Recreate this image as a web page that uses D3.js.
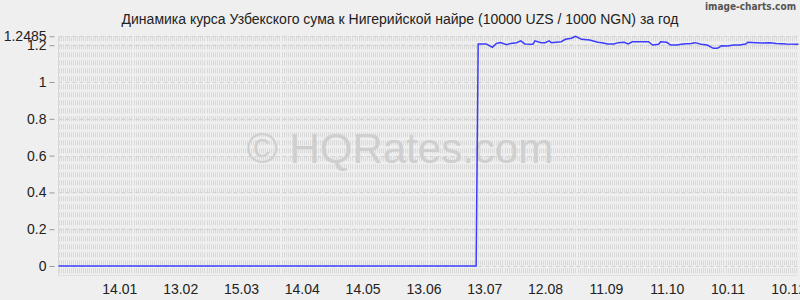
<!DOCTYPE html>
<html>
<head>
<meta charset="utf-8">
<script src="https://cdn.jsdelivr.net/npm/d3@7"></script>
<style>
  body { margin: 0; background: #efefef; }
  svg { display: block; }
</style>
</head>
<body>
<div id="chart"></div>
<script>
// rate data, 10000 UZS / 1000 NGN (zero before the series starts)
var rateDates = ["2012-12-15", "2013-07-09", "2013-07-10", "2013-07-14", "2013-07-17", "2013-07-19", "2013-07-21",
  "2013-07-24", "2013-07-26", "2013-07-29", "2013-07-31", "2013-08-02", "2013-08-06", "2013-08-07", "2013-08-10",
  "2013-08-12", "2013-08-14", "2013-08-15", "2013-08-20", "2013-08-22", "2013-08-25", "2013-08-27", "2013-08-30",
  "2013-09-03", "2013-09-07", "2013-09-09", "2013-09-12", "2013-09-15", "2013-09-17", "2013-09-20", "2013-09-22",
  "2013-09-24", "2013-09-28", "2013-10-02", "2013-10-04", "2013-10-07", "2013-10-08", "2013-10-11", "2013-10-13",
  "2013-10-16", "2013-10-19", "2013-10-23", "2013-10-25", "2013-10-28", "2013-10-31", "2013-11-03", "2013-11-05",
  "2013-11-07", "2013-11-10", "2013-11-13", "2013-11-16", "2013-11-19", "2013-11-20", "2013-11-24", "2013-11-27",
  "2013-12-01", "2013-12-04", "2013-12-09", "2013-12-15"];
var rateValues = [0, 0, 1.207, 1.207, 1.189, 1.210, 1.214,
  1.203, 1.210, 1.214, 1.224, 1.207, 1.205, 1.224, 1.214,
  1.214, 1.224, 1.214, 1.219, 1.232, 1.238, 1.2485, 1.232,
  1.228, 1.216, 1.214, 1.207, 1.207, 1.214, 1.216, 1.207,
  1.219, 1.219, 1.219, 1.201, 1.205, 1.219, 1.216, 1.201,
  1.201, 1.207, 1.210, 1.214, 1.205, 1.201, 1.183, 1.183,
  1.197, 1.196, 1.201, 1.201, 1.207, 1.216, 1.214, 1.212,
  1.214, 1.210, 1.207, 1.205];
var xTickDates = ["2013-01-14", "2013-02-13", "2013-03-15", "2013-04-14", "2013-05-14", "2013-06-13",
  "2013-07-13", "2013-08-12", "2013-09-11", "2013-10-11", "2013-11-10", "2013-12-10"];
var yTicks = [0, 0.2, 0.4, 0.6, 0.8, 1, 1.2, 1.2485];
var title = "Динамика курса Узбекского сума к Нигерийской найре (10000 UZS / 1000 NGN) за год";

var width = 800, height = 300;
var plotLeft = 58.5, plotRight = 798.5, plotTop = 36.3, zeroY = 266, plotBottom = 275;

var parse = d3.timeParse("%Y-%m-%d");
var data = rateDates.map(function(d, i) { return { date: parse(d), value: rateValues[i] }; });

var svg = d3.select("#chart").append("svg")
  .attr("width", width)
  .attr("height", height)
  .style("font-family", "'Liberation Sans', Arial, sans-serif");

svg.append("rect").attr("width", width).attr("height", height).attr("fill", "#efefef");

var x = d3.scaleTime()
  .domain([parse(rateDates[0]), parse(rateDates[rateDates.length - 1])])
  .range([plotLeft, plotRight]);
var y = d3.scaleLinear()
  .domain([0, 1.2485])
  .range([zeroY, plotTop]);

// daily dashed grid
var grid = svg.append("g");
grid.selectAll("line.day")
  .data(d3.timeDay.range(x.domain()[0], x.domain()[1]))
  .enter().append("line")
  .attr("class", "day")
  .attr("x1", function(d) { return Math.round(x(d)) + 0.5; })
  .attr("x2", function(d) { return Math.round(x(d)) + 0.5; })
  .attr("y1", plotTop)
  .attr("y2", plotBottom)
  .attr("stroke", "#d9d9d9")
  .attr("stroke-width", 1)
  .attr("stroke-dasharray", "5,3");

grid.selectAll("line.h")
  .data(yTicks)
  .enter().append("line")
  .attr("class", "h")
  .attr("x1", plotLeft)
  .attr("x2", plotRight)
  .attr("y1", function(d) { return Math.round(y(d)) + 0.5; })
  .attr("y2", function(d) { return Math.round(y(d)) + 0.5; })
  .attr("stroke", "#d2d2d2")
  .attr("stroke-dasharray", "4,3");

grid.append("line")
  .attr("x1", plotLeft).attr("x2", plotRight)
  .attr("y1", plotBottom + 0.5).attr("y2", plotBottom + 0.5)
  .attr("stroke", "#d0d0d0")
  .attr("stroke-dasharray", "1,1");

grid.append("line")
  .attr("x1", plotLeft).attr("x2", plotLeft)
  .attr("y1", plotTop).attr("y2", plotBottom)
  .attr("stroke", "#dadada");

// watermark
svg.append("text")
  .attr("x", 400)
  .attr("y", 163)
  .attr("text-anchor", "middle")
  .style("font-size", "42px")
  .attr("fill", "#cfcfcf")
  .text("© HQRates.com");

// y axis
var yAxis = svg.append("g")
  .attr("transform", "translate(" + (plotLeft - 4) + ",0)")
  .call(d3.axisLeft(y).tickValues(yTicks).tickSize(5).tickPadding(3)
    .tickFormat(function(d) { return d3.format("~g")(d); }));
yAxis.select(".domain").remove();
yAxis.selectAll(".tick line").attr("stroke", "#999");
yAxis.selectAll(".tick text").style("font-size", "14px").attr("fill", "#222");

// x axis
var xAxis = svg.append("g")
  .attr("transform", "translate(0," + plotBottom + ")")
  .call(d3.axisBottom(x).tickValues(xTickDates.map(parse)).tickSize(0).tickPadding(9)
    .tickFormat(d3.timeFormat("%d.%m")));
xAxis.select(".domain").remove();
xAxis.selectAll(".tick text").style("font-size", "14px").attr("fill", "#222");

// line
var line = d3.line()
  .x(function(d) { return x(d.date); })
  .y(function(d) { return y(d.value); });
svg.append("path")
  .datum(data)
  .attr("d", line)
  .attr("fill", "none")
  .attr("stroke", "#3c3cff")
  .attr("stroke-width", 1.5);

// title
svg.append("text")
  .attr("x", 400)
  .attr("y", 24)
  .attr("text-anchor", "middle")
  .style("font-size", "14px")
  .attr("fill", "#222")
  .text(title);

svg.append("text")
  .attr("x", 796)
  .attr("y", 10)
  .attr("text-anchor", "end")
  .style("font-family", "'DejaVu Sans Condensed', sans-serif")
  .style("font-size", "10px")
  .style("font-weight", "bold")
  .attr("fill", "#555")
  .text("image-charts.com");
</script>
</body>
</html>
